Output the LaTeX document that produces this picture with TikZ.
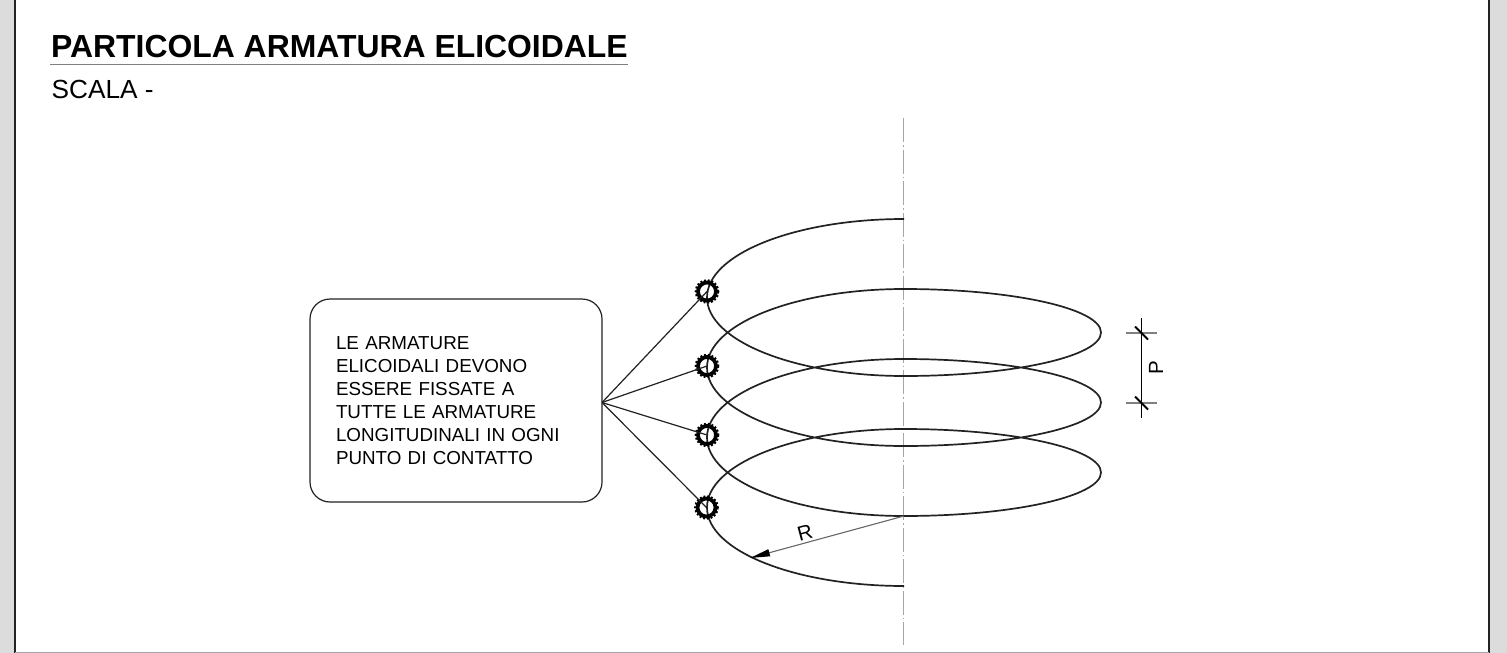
\documentclass[tikz,border=0pt]{standalone}
\usepackage{fontspec}
\setmainfont{Liberation Sans}
\usetikzlibrary{arrows.meta}
\definecolor{ink}{HTML}{222222}
\definecolor{side}{HTML}{DCDCDC}
\definecolor{rule}{HTML}{808080}
\tikzset{
  x=1pt,y=-1pt,
  helix/.style={draw=ink,line width=1.7pt},
  leader/.style={draw=ink,line width=1.2pt},
  ringbar/.style={circle,draw=black,line width=3.8pt,minimum size=18pt,inner sep=0pt},
  ribs/.style={draw=black,line width=2.2pt,dash pattern=on 1.9pt off 1.9pt},
  dimline/.style={draw=black,line width=1.2pt},
  extline/.style={draw=rule,line width=1.7pt},
  centerline/.style={draw=rule!70,line width=1pt,dash pattern=on 24pt off 3pt on 1.5pt off 3pt},
  notebox/.style={draw=ink,line width=1.2pt,rounded corners=20pt,minimum width=292pt,minimum height=203pt,inner sep=0pt,
    text width=240pt,align=left,font=\fontsize{18.8pt}{23pt}\selectfont},
  lbl/.style={inner sep=0pt,anchor=base west}
}
\begin{document}
\begin{tikzpicture}
\useasboundingbox (0,0) rectangle (1507,653);
\fill[side] (0,0) rectangle (1507,653);
\fill[white] (15,-1) rectangle (1489,652);
\draw[ink,line width=1.6pt] (15,-1) -- (15,653);
\draw[ink,line width=1.6pt] (1489,-1) -- (1489,653);
\draw[rule!70!white,line width=1.5pt] (15,652.3) -- (1489,652.3);

\node[lbl,font=\bfseries\fontsize{31.9pt}{36pt}\selectfont] (title) at (51,57.5) {PARTICOLA ARMATURA ELICOIDALE};
\coordinate (ulA) at (50,64.5);
\coordinate (ulB) at (628,64.5);
\draw[rule,line width=1.8pt] (ulA) -- (ulB);
\node[lbl,font=\fontsize{26.2pt}{30pt}\selectfont] (scale) at (51.5,98) {SCALA -};

\coordinate (axA) at (903.7,118);
\coordinate (axB) at (903.7,645);
\draw[centerline] (axA) -- (axB);

\draw[helix] (904,219)
  .. controls (795.2,219) and (707,254.1) .. (707,297.5)
  .. controls (707,340.9) and (795.2,376) .. (904,376)
  .. controls (1012.8,376) and (1101,356.5) .. (1101,332.5)
  .. controls (1101,308.5) and (1012.8,289) .. (904,289)
  .. controls (795.2,289) and (707,324.1) .. (707,367.5)
  .. controls (707,410.9) and (795.2,446) .. (904,446)
  .. controls (1012.8,446) and (1101,426.5) .. (1101,402.5)
  .. controls (1101,378.5) and (1012.8,359) .. (904,359)
  .. controls (795.2,359) and (707,394.1) .. (707,437.5)
  .. controls (707,480.9) and (795.2,516) .. (904,516)
  .. controls (1012.8,516) and (1101,496.5) .. (1101,472.5)
  .. controls (1101,448.5) and (1012.8,429) .. (904,429)
  .. controls (795.2,429) and (707,464.1) .. (707,507.5)
  .. controls (707,550.9) and (795.2,586) .. (904,586);

\node[notebox] (note) at (456,400.5) {LE ARMATURE\\ELICOIDALI DEVONO\\ESSERE FISSATE A\\TUTTE LE ARMATURE\\LONGITUDINALI IN OGNI\\PUNTO DI CONTATTO};

\node[ringbar] (r1) at (707,291.5) {};
\node[ringbar] (r2) at (707,366) {};
\node[ringbar] (r3) at (707,435) {};
\node[ringbar] (r4) at (706.5,507.5) {};
\foreach \n in {r1,r2,r3,r4} \draw[ribs] (\n.center) circle (11.2);
\coordinate (fan) at (602,402.5);
\foreach \n in {r1,r2,r3,r4} \draw[leader] (fan) -- (\n.center);

\coordinate (rA) at (904,516);
\coordinate (rB) at (750,558);
\draw[draw=rule!80!black,line width=1.1pt,-{Stealth[inset=0pt,length=20pt,width=7pt,black]}] (rA) -- (rB);
\node[inner sep=0pt,rotate=15,font=\fontsize{20.5pt}{22pt}\selectfont] (rlabel) at (805,532.5) {R};

\coordinate (pT) at (1141.5,318);
\coordinate (pB) at (1141.5,418);
\draw[dimline] (pT) -- (pB);
\coordinate (e1a) at (1126,333); \coordinate (e1b) at (1157,333);
\coordinate (e2a) at (1126,403); \coordinate (e2b) at (1157,403);
\draw[extline] (e1a) -- (e1b);
\draw[extline] (e2a) -- (e2b);
\coordinate (t1a) at (1135,326.5); \coordinate (t1b) at (1148,339.5);
\coordinate (t2a) at (1135,396.5); \coordinate (t2b) at (1148,409.5);
\draw[black,line width=1.9pt] (t1a) -- (t1b);
\draw[black,line width=1.9pt] (t2a) -- (t2b);
\node[inner sep=0pt,rotate=90,font=\fontsize{20.5pt}{22pt}\selectfont] (plabel) at (1156,368) {P};
\end{tikzpicture}
\end{document}
